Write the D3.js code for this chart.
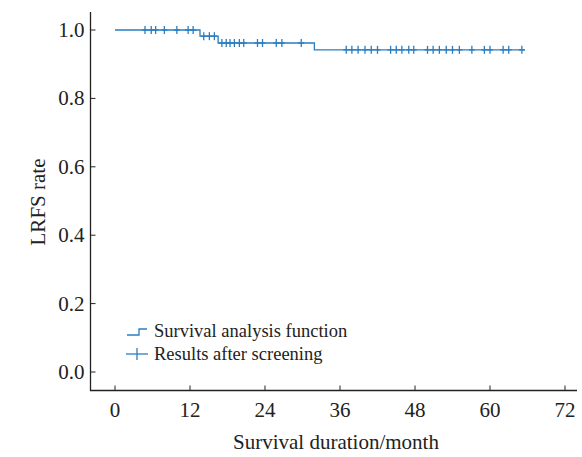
<!DOCTYPE html>
<html>
<head>
<meta charset="utf-8">
<script src="https://cdn.jsdelivr.net/npm/d3@7"></script>
<style>
  body { margin: 0; background: #fff; }
  svg text { font-family: 'Liberation Serif', 'Times New Roman', Times, 'DejaVu Serif', serif; fill: #222; }
</style>
</head>
<body>
<svg id="chart" width="582" height="457"></svg>
<script>
// step function: event times and survival after each step
var stepTimes = [0, 13.6, 16.5, 31.9];
var stepSurv = [1.0, 0.982, 0.962, 0.942];
var endTime = 65.6;

// censored observations (months)
var censorTimes = [4.8, 5.8, 6.5, 7.9, 9.9, 11.7, 12.5,
  14.2, 15.1, 15.9,
  17.1, 17.8, 18.4, 19.1, 19.9, 20.6, 22.8, 23.6, 25.8, 26.7, 29.8,
  37.0, 37.9, 38.9, 40.0, 41.0, 42.0, 44.1, 45.0, 45.9, 47.0, 47.8,
  50.0, 50.9, 51.9, 53.0, 54.0, 55.1, 57.1, 59.1, 60.0, 62.1, 63.0, 65.1];

var xTicks = [0, 12, 24, 36, 48, 60, 72];
var yTicks = [0, 0.2, 0.4, 0.6, 0.8, 1.0];
var legendLabels = ["Survival analysis function", "Results after screening"];

var blue = "#2a7dc0";
var serif = "'Liberation Serif', 'Times New Roman', Times, 'DejaVu Serif', serif";
var svg = d3.select("#chart");

var x = d3.scaleLinear().domain([0, 72]).range([115, 565]);
var y = d3.scaleLinear().domain([0, 1]).range([372, 30]);

// axes
var xAxis = svg.append("g").attr("transform", "translate(0,390.5)");
xAxis.append("line").attr("x1", 90).attr("x2", 577).attr("stroke", "#222").attr("stroke-width", 1.3);
xAxis.selectAll(".tk").data(xTicks).enter().append("line")
  .attr("x1", function (d) { return x(d); }).attr("x2", function (d) { return x(d); })
  .attr("y1", 0).attr("y2", -5).attr("stroke", "#222");
xAxis.selectAll(".lb").data(xTicks).enter().append("text")
  .attr("x", function (d) { return x(d); }).attr("y", 26)
  .attr("text-anchor", "middle").attr("font-size", 21).attr("font-family", serif)
  .text(function (d) { return d; });

var yAxis = svg.append("g").attr("transform", "translate(90.5,0)");
yAxis.append("line").attr("y1", 12).attr("y2", 391).attr("stroke", "#222").attr("stroke-width", 1.3);
yAxis.selectAll(".tk").data(yTicks).enter().append("line")
  .attr("y1", function (d) { return y(d); }).attr("y2", function (d) { return y(d); })
  .attr("x1", 0).attr("x2", 5).attr("stroke", "#222");
yAxis.selectAll(".lb").data(yTicks).enter().append("text")
  .attr("x", -6).attr("y", function (d) { return y(d) + 7; })
  .attr("text-anchor", "end").attr("font-size", 21).attr("font-family", serif)
  .text(function (d) { return d.toFixed(1); });

svg.append("text").attr("x", 336).attr("y", 449).attr("text-anchor", "middle")
  .attr("font-size", 21).attr("font-family", serif).text("Survival duration/month");
svg.append("text").attr("transform", "translate(45,202) rotate(-90)")
  .attr("text-anchor", "middle").attr("font-size", 21).attr("font-family", serif).text("LRFS rate");

// survival step curve
var pts = stepTimes.map(function (t, i) { return [t, stepSurv[i]]; });
pts.push([endTime, stepSurv[stepSurv.length - 1]]);
var line = d3.line().x(function (d) { return x(d[0]); }).y(function (d) { return y(d[1]); })
  .curve(d3.curveStepAfter);
svg.append("path").datum(pts).attr("d", line)
  .attr("fill", "none").attr("stroke", blue).attr("stroke-width", 1.3);

function survAt(t) {
  var s = stepSurv[0];
  stepTimes.forEach(function (st, i) { if (t >= st) s = stepSurv[i]; });
  return s;
}

// censor marks
var marks = svg.append("g").attr("stroke", blue).attr("stroke-width", 1.3);
censorTimes.forEach(function (t) {
  var cx = x(t), cy = y(survAt(t));
  marks.append("line").attr("x1", cx).attr("x2", cx).attr("y1", cy - 4).attr("y2", cy + 4);
  marks.append("line").attr("x1", cx - 3).attr("x2", cx + 3).attr("y1", cy).attr("y2", cy);
});

// legend
var lg = svg.append("g");
lg.append("path").attr("d", "M127,335H139V329H147")
  .attr("fill", "none").attr("stroke", blue).attr("stroke-width", 1.3);
lg.append("line").attr("x1", 126).attr("x2", 148).attr("y1", 354).attr("y2", 354)
  .attr("stroke", blue).attr("stroke-width", 1.3);
lg.append("line").attr("x1", 137).attr("x2", 137).attr("y1", 348).attr("y2", 360)
  .attr("stroke", blue).attr("stroke-width", 1.3);
lg.selectAll("text").data(legendLabels).enter().append("text")
  .attr("x", 154).attr("y", function (d, i) { return 337 + i * 23; })
  .attr("font-size", 18.5).attr("font-family", serif).text(function (d) { return d; });
</script>
</body>
</html>
